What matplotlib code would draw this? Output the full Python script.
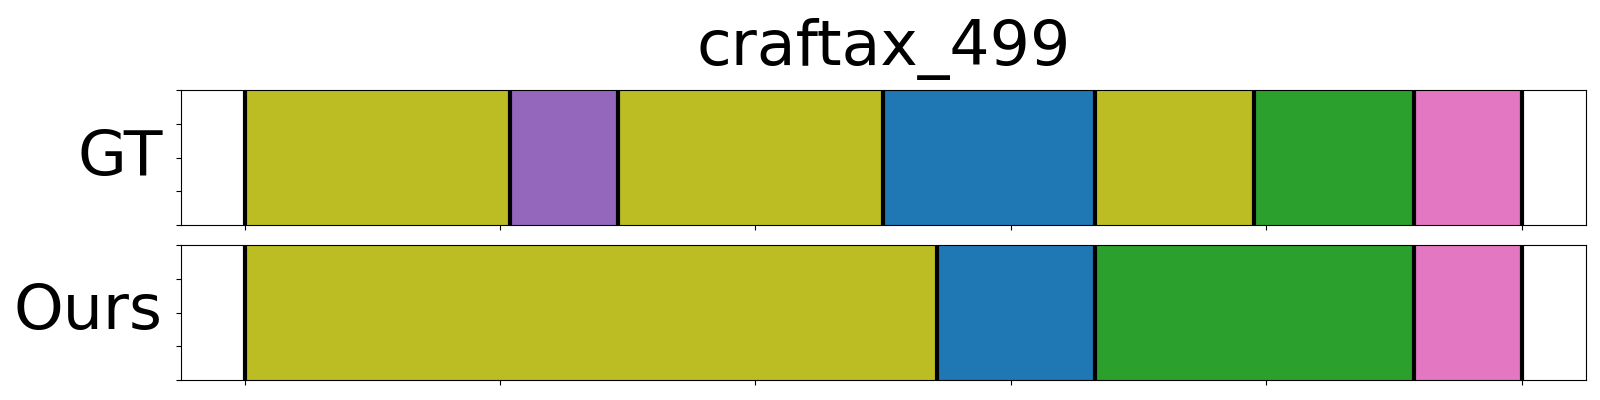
import matplotlib.pyplot as plt

title = "craftax_499"
row_names = ["GT", "Ours"]

# segment boundaries (frame index) and class id per segment (tab10 index)
gt_bounds = [0, 104, 146, 250, 333, 395, 458, 500]
gt_classes = [8, 4, 8, 0, 8, 2, 6]
ours_bounds = [0, 271, 333, 458, 500]
ours_classes = [8, 0, 2, 6]

x_ticks = [0, 100, 200, 300, 400, 500]

cmap = plt.get_cmap("tab10")

fig = plt.figure(figsize=(16, 4), dpi=100)
ax_gt = fig.add_axes([0.113, 0.4375, 0.878, 0.3375])
ax_ours = fig.add_axes([0.113, 0.05, 0.878, 0.3375])

for ax, name, bounds, classes in [(ax_gt, row_names[0], gt_bounds, gt_classes),
                                  (ax_ours, row_names[1], ours_bounds, ours_classes)]:
    for start, end, c in zip(bounds[:-1], bounds[1:], classes):
        ax.axvspan(start, end, color=cmap(c))
    for b in bounds:
        ax.axvline(b, color="black", linewidth=3)
    ax.set_xlim(bounds[0] - 25, bounds[-1] + 25)
    ax.set_ylim(0, 1)
    ax.set_xticks(x_ticks)
    ax.set_yticks([0, 0.25, 0.5, 0.75, 1.0])
    ax.set_xticklabels([])
    ax.set_yticklabels([])
    ax.set_ylabel(name, fontsize=45.5, rotation=0, ha="right", va="center",
                  labelpad=6)

ax_gt.set_title(title, fontsize=45.5, pad=18)

fig.savefig("out.png")
